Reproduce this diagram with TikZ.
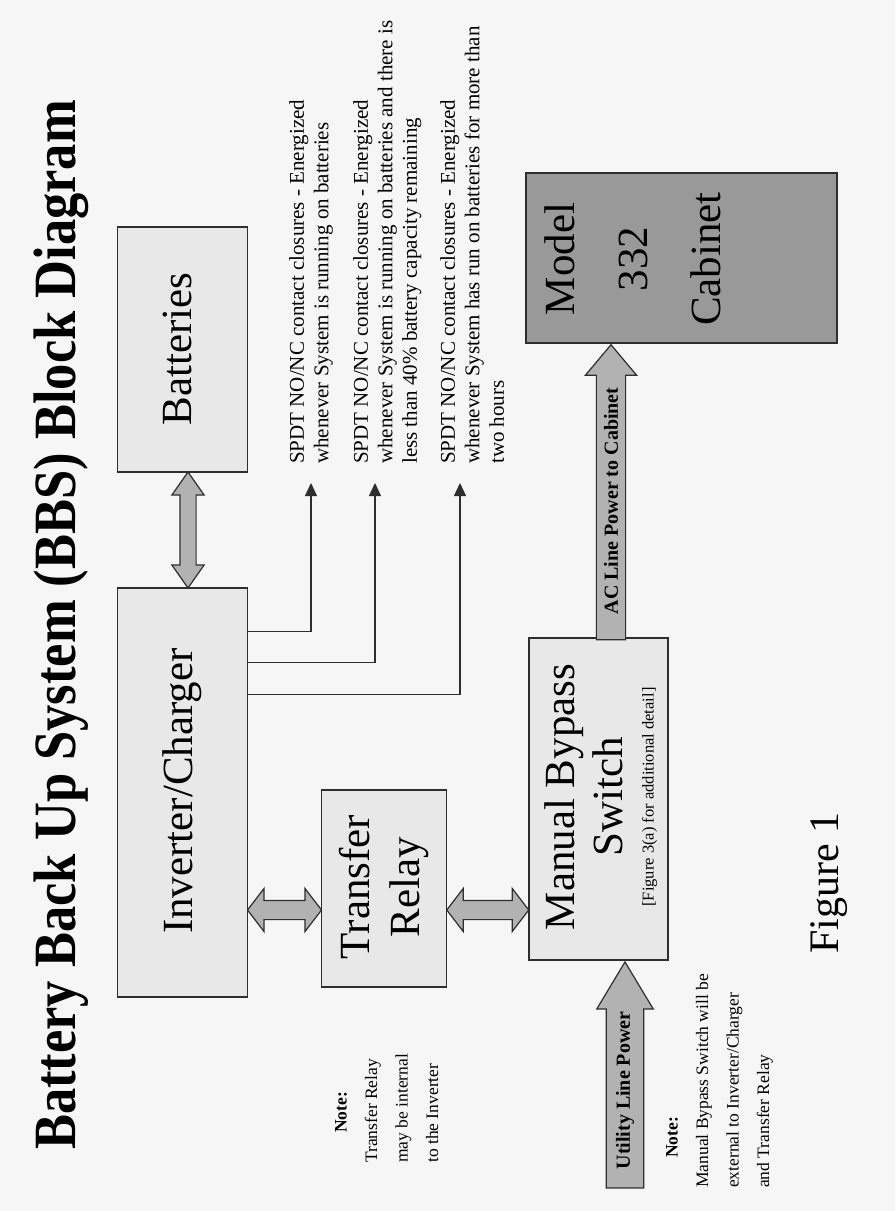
\documentclass[tikz,border=0pt]{standalone}
\usepackage{graphicx}
\usepackage{fontspec}
\setmainfont{Liberation Serif}
\usepackage{tikz}
\usetikzlibrary{positioning, calc, arrows.meta, shapes.arrows}

\definecolor{pagebg}{gray}{0.965}
\definecolor{boxfill}{gray}{0.91}
\definecolor{cabfill}{gray}{0.6}
\definecolor{pipefill}{gray}{0.7}
\definecolor{ink}{gray}{0.18}

\newcommand{\fsz}[2]{\fontsize{#1}{#2}\selectfont}

\begin{document}
\begin{tikzpicture}[x=1pt, y=-1pt,
  block/.style={draw=ink, line width=1.6pt, fill=boxfill, inner sep=0pt},
  bigtxt/.style={rotate=90, font=\fsz{43}{50}, align=center, inner sep=0pt},
  sidetxt/.style={rotate=90, font=\fsz{21}{24.5}, align=left, inner sep=0pt, anchor=north west},
  notetxt/.style={rotate=90, font=\fsz{17.5}{30.5}, align=left, inner sep=0pt, anchor=north west},
  signal/.style={draw=ink, line width=1.2pt, -{Triangle[length=13pt, width=12pt]}},
  twoway/.style={double arrow, draw=ink, line width=1.2pt, fill=pipefill, inner xsep=0pt},
  oneway/.style={single arrow, draw=ink, line width=1.2pt, fill=pipefill, rotate=90,
    font=\bfseries\fsz{20}{24}, inner xsep=0pt, anchor=tip}]

  \fill[pagebg] (0,0) rectangle (895,1211);
  \useasboundingbox (0,0) rectangle (895,1211);

  % title
  \node[rotate=90, anchor=base, font=\bfseries\fsz{60}{66}] (title) at (75,625)
    {\scalebox{0.875}[1]{Battery Back Up System (BBS) Block Diagram}};

  % blocks
  \node[block, minimum width=130pt, minimum height=245pt] (bat) at (182.5,349.5) {};
  \node[block, minimum width=130pt, minimum height=409pt] (inv) at (182.5,792.5) {};
  \node[block, minimum width=125pt, minimum height=197pt] (rel) at (384,888.5) {};
  \node[block, minimum width=139pt, minimum height=322pt] (mbs) at (598.5,799) {};
  \node[block, fill=cabfill, minimum width=311pt, minimum height=170pt] (cab) at (681.5,258) {};

  \node[bigtxt] (batname) at (177,349) {Batteries};
  \node[bigtxt] (invname) at (182,791) {Inverter/Charger};
  \node[bigtxt] (relname) at (384,887) {Transfer\\Relay};
  \node[bigtxt, font=\fsz{43}{48}] (mbsname) at (601,797)
    {Manual Bypass\\Switch\\[-17pt]{\fsz{16.5}{18}[Figure 3(a) for additional detail]}};
  \node[bigtxt, font=\fsz{43}{73}] (cabname) at (633,259) {Model\\332\\Cabinet};

  % power paths
  \node[twoway, rotate=90, minimum height=116pt, inner ysep=7.5pt,
    double arrow head extend=8pt, double arrow tip angle=70] (batlink)
    at ($(bat.south)!.5!(inv.north)+(5.5,0)$) {};
  \coordinate (linky) at (0,910);
  \node[twoway, minimum height=74pt, inner ysep=9pt,
    double arrow head extend=12pt, double arrow tip angle=105] (rellink)
    at ($(inv.east |- linky)!.5!(rel.west |- linky)$) {};
  \node[twoway, minimum height=82pt, inner ysep=9pt,
    double arrow head extend=12pt, double arrow tip angle=105] (mbslink)
    at ($(rel.east |- linky)!.5!(mbs.west |- linky)$) {};
  \node[oneway, minimum height=226pt, inner ysep=9pt,
    single arrow head extend=9.5pt, single arrow tip angle=62] (utility)
    at ($(mbs.south)+(26.5,0)$) {Utility Line Power};
  \node[oneway, minimum height=295pt, inner ysep=7pt,
    single arrow head extend=11pt, single arrow tip angle=80] (acline)
    at ($(cab.south)+(-70.5,0)$) {AC Line Power to Cabinet};

  % contact closures
  \coordinate (out1) at (311,483);
  \coordinate (out2) at (375,483);
  \coordinate (out3) at (460,483);
  \draw[signal] ($(inv.north east)+(0,44)$) -| (out1);
  \draw[signal] ($(inv.north east)+(0,75)$) -| (out2);
  \draw[signal] ($(inv.north east)+(0,107)$) -| (out3);

  \node[sidetxt] (spdt1) at (289,464)
    {SPDT NO/NC contact closures - Energized\\whenever System is running on batteries};
  \node[sidetxt] (spdt2) at (353,464)
    {SPDT NO/NC contact closures - Energized\\whenever System is running on batteries and there is\\less than 40\% battery capacity remaining};
  \node[sidetxt] (spdt3) at (440,464)
    {SPDT NO/NC contact closures - Energized\\whenever System has run on batteries for more than\\two hours};

  % notes
  \node[notetxt] (relnote) at (335,1163)
    {\hspace*{30pt}\textbf{Note:}\\Transfer Relay\\may be internal\\to the Inverter};
  \node[notetxt] (mbsnote) at (666,1188)
    {\hspace*{30pt}\textbf{Note:}\\Manual Bypass Switch will be\\external to Inverter/Charger\\and Transfer Relay};

  \node[rotate=90, anchor=base west, font=\fsz{42}{48}] (fig) at (838,957) {Figure 1};
\end{tikzpicture}
\end{document}
